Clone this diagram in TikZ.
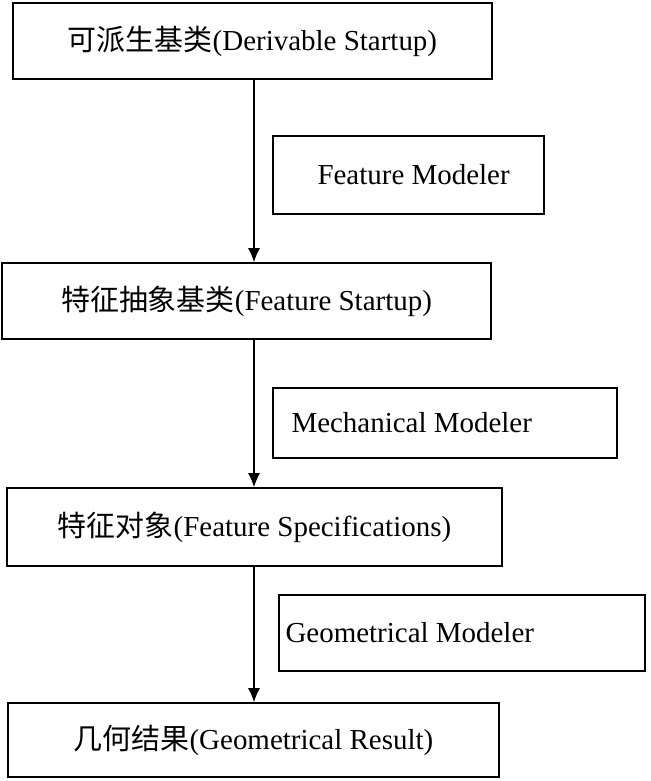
\documentclass[tikz,border=0pt]{standalone}
\usepackage{fontspec}
\setmainfont{Liberation Serif}
\newfontfamily\cjk{Noto Sans CJK SC}
\usetikzlibrary{arrows.meta}

\begin{document}
\begin{tikzpicture}[>={Latex[length=10pt,width=8.5pt]},
    every node/.style={inner sep=0pt, font=\fontsize{20.6pt}{24pt}\selectfont},
    stagebox/.style={draw, line width=1.1pt},
    modbox/.style={draw, line width=1.1pt}]
    \useasboundingbox (0,0) rectangle (16.25,-19.525);

    \node[stagebox, minimum width=11.975cm, minimum height=1.9cm] (derive) at (6.3125,-1.025) {{\cjk 可派生基类}(Derivable Startup)};
    \node[stagebox, minimum width=12.225cm, minimum height=1.9cm] (feat) at (6.1625,-7.525) {{\cjk 特征抽象基类}(Feature Startup)};
    \node[stagebox, minimum width=12.375cm, minimum height=1.95cm] (spec) at (6.3625,-13.175) {{\cjk 特征对象}(Feature Specifications)};
    \node[stagebox, minimum width=12.275cm, minimum height=1.85cm] (result) at (6.3375,-18.5) {{\cjk 几何结果}(Geometrical Result)};

    \node[modbox, minimum width=6.775cm, minimum height=1.95cm] (fmod) at (10.2125,-4.375) {};
    \node[anchor=west] (fmodtxt) at ([xshift=1.125cm]fmod.west) {Feature Modeler};
    \node[modbox, minimum width=8.6cm, minimum height=1.75cm] (mmod) at (11.125,-10.575) {};
    \node[anchor=west] (mmodtxt) at ([xshift=0.475cm]mmod.west) {Mechanical Modeler};
    \node[modbox, minimum width=9.15cm, minimum height=1.9cm] (gmod) at (11.55,-15.825) {};
    \node[anchor=west] (gmodtxt) at ([xshift=0.175cm]gmod.west) {Geometrical Modeler};

    \coordinate (spine) at (6.35,0);
    \draw[->, line width=0.8pt] (derive.south -| spine) -- (feat.north -| spine);
    \draw[->, line width=0.8pt] (feat.south -| spine) -- (spec.north -| spine);
    \draw[->, line width=0.8pt] (spec.south -| spine) -- (result.north -| spine);
\end{tikzpicture}
\end{document}
